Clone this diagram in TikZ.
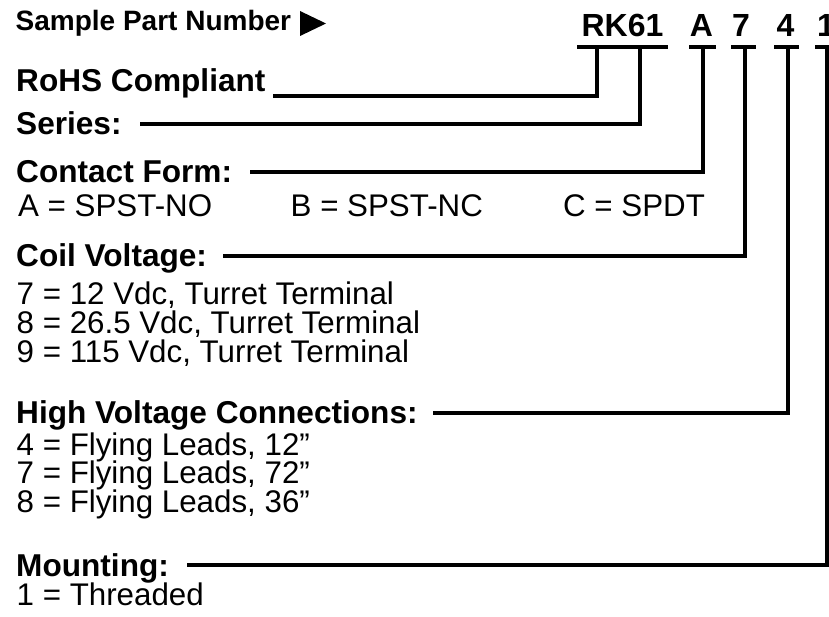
\documentclass[tikz,border=0pt]{standalone}
\usepackage{fontspec}
\setmainfont{Liberation Sans}
\usetikzlibrary{positioning}

\newcommand{\headfont}{\fontsize{31.6}{31.6}\selectfont\bfseries}
\newcommand{\optfont}{\fontsize{31.3}{31.3}\selectfont}
\newcommand{\pnfont}{\fontsize{32}{32}\selectfont\bfseries}
\newcommand{\samplefont}{\fontsize{28}{28}\selectfont\bfseries}

\tikzset{
  head/.style={anchor=base west, inner sep=0pt, font=\headfont},
  opt/.style={anchor=base west, inner sep=0pt, font=\optfont},
  code/.style={anchor=base, inner sep=0pt, font=\pnfont},
  bar/.style={fill=black, inner sep=0pt, minimum height=3.4pt},
  lead/.style={line width=3.2pt, line join=miter},
}

\begin{document}
\begin{tikzpicture}[x=1pt, y=-1pt]
  \useasboundingbox (0,0) rectangle (829,617);

  % sample part number
  \node[anchor=base west, inner sep=0pt, font=\samplefont] (sample) at (15.5,31) {Sample Part Number};
  \fill (300,11) -- (326,23.5) -- (300,36) -- cycle;

  \node[code] (rk) at (622.5,37) {RK61};
  \node[code] (cA) at (701.5,37) {A};
  \node[code] (c7) at (741,37) {7};
  \node[code] (c4) at (785.5,37) {4};
  \node[code] (c1) at (826,37) {1};

  \node[bar, minimum width=91pt] (rkbar) at (622.5,47) {};
  \node[bar, minimum width=27pt] (Abar) at (702,47) {};
  \node[bar, minimum width=25pt] (sevenbar) at (743,47) {};
  \node[bar, minimum width=25pt] (fourbar) at (786,47) {};
  \node[bar, minimum width=25pt] (onebar) at (827,47) {};

  % headings and options
  \node[head] (rohs) at (16,92) {RoHS Compliant};
  \node[head] (series) at (16,135) {Series:};

  \node[head] (contact) at (16,183) {Contact Form:};
  \node[opt] (formA) at (18,217) {A = SPST-NO};
  \node[opt] (formB) at (290.5,217) {B = SPST-NC};
  \node[opt] (formC) at (563,217) {C = SPDT};

  \node[head] (coil) at (16,267) {Coil Voltage:};
  \node[opt] (coil7) at (16.5,305) {7 = 12 Vdc, Turret Terminal};
  \node[opt] (coil8) at (16.5,333.5) {8 = 26.5 Vdc, Turret Terminal};
  \node[opt] (coil9) at (16.5,362) {9 = 115 Vdc, Turret Terminal};

  \node[head] (hv) at (16,423) {High Voltage Connections:};
  \node[opt] (hv4) at (16.5,455) {4 = Flying Leads, 12”};
  \node[opt] (hv7) at (16.5,483.5) {7 = Flying Leads, 72”};
  \node[opt] (hv8) at (16.5,512) {8 = Flying Leads, 36”};

  \node[head] (mount) at (16,576) {Mounting:};
  \node[opt] (mount1) at (16.5,605) {1 = Threaded};

  % leads
  \coordinate (rohsL) at (273,96);
  \coordinate (seriesL) at (140,124);
  \coordinate (contactL) at (250,172);
  \coordinate (coilL) at (223,256);
  \coordinate (hvL) at (433,413);
  \coordinate (mountL) at (187,565);

  \draw[lead] (rohsL) -| ([xshift=-25.5pt]rkbar.center);
  \draw[lead] (seriesL) -| ([xshift=17.5pt]rkbar.center);
  \draw[lead] (contactL) -| ([xshift=1pt]Abar.center);
  \draw[lead] (coilL) -| ([xshift=2pt]sevenbar.center);
  \draw[lead] (hvL) -| ([xshift=2pt]fourbar.center);
  \draw[lead] (mountL) -| (onebar.center);
\end{tikzpicture}
\end{document}
